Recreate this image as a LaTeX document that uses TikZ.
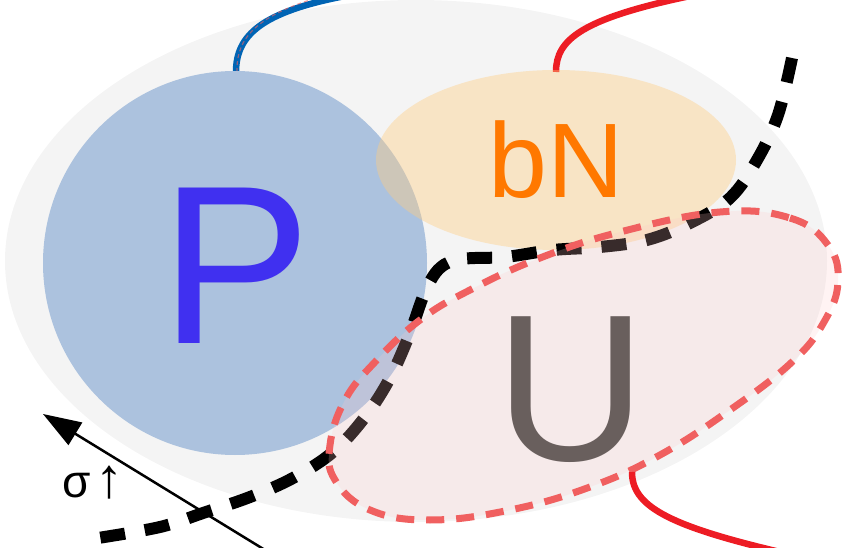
\documentclass[tikz,border=0pt]{standalone}
\usepackage{fontspec}
\setmainfont{Liberation Sans}
\usetikzlibrary{arrows.meta}

\definecolor{bggray}{RGB}{244,244,244}
\definecolor{pblue}{RGB}{172,194,222}
\definecolor{ptext}{RGB}{64,48,240}
\definecolor{bnfill}{RGB}{255,204,128}
\definecolor{bntext}{RGB}{255,120,0}
\definecolor{ufill}{RGB}{255,200,200}
\definecolor{uedge}{RGB}{240,96,96}
\definecolor{utext}{RGB}{105,95,93}
\definecolor{linkblue}{RGB}{0,100,180}
\definecolor{linkred}{RGB}{237,28,36}

\tikzset{
  bigletter/.style={inner sep=0pt, anchor=base},
  boundary/.style={line width=12pt, dash pattern=on 25pt off 20pt, black},
  uoutline/.style={line width=7pt, dash pattern=on 18pt off 12pt, uedge},
  link/.style={line width=6.5pt},
}

\begin{document}
\begin{tikzpicture}[x=1pt, y=-1pt]
  \useasboundingbox (0,0) rectangle (847,548);
  \clip (0,0) rectangle (847,548);

  % outer gray domain
  \fill[bggray] (416,261) ellipse [x radius=411, y radius=261];

  % links leaving the top of P and bN
  \draw[link, linkblue] (236,72) .. controls (236,35) and (262,12) .. (345,-4);
  \draw[line width=1.2pt, uedge, opacity=0.6, dash pattern=on 4pt off 3pt]
    (237,72) .. controls (236,38) and (256,14) .. (330,-6);
  \draw[link, linkred] (556,72) .. controls (556,40) and (580,18) .. (700,-6);

  % P region
  \fill[pblue] (235,263) circle [radius=192];
  \node[bigletter, text=ptext, font=\fontsize{226}{226}\selectfont] (P) at (236,344) {P};

  % bN region
  \fill[bnfill, opacity=0.4] (556,160) ellipse [x radius=180, y radius=90];
  \node[bigletter, text=bntext, font=\fontsize{106}{106}\selectfont] (bN) at (556,198) {bN};

  % separating boundary
  \draw[boundary] plot[smooth, tension=0.6] coordinates {
    (792,58) (778,115) (757,160) (730,198) (690,223) (647,240) (600,247)
    (553,250) (505,257) (462,259) (440,268) (425,292) (410,333) (390,378)
    (365,417) (333,452) (293,478) (250,497) (203,513) (160,527) (98,538)};

  % U region
  \fill[ufill, opacity=0.22] plot[smooth cycle, tension=0.7] coordinates {
    (720,212) (790,218) (828,245) (838,282) (824,322) (792,362) (730,410)
    (660,455) (590,487) (510,510) (430,520) (370,510) (335,480) (330,445)
    (345,400) (375,362) (420,320) (470,290) (540,258) (620,232)};
  \draw[uoutline] plot[smooth cycle, tension=0.7] coordinates {
    (720,212) (790,218) (828,245) (838,282) (824,322) (792,362) (730,410)
    (660,455) (590,487) (510,510) (430,520) (370,510) (335,480) (330,445)
    (345,400) (375,362) (420,320) (470,290) (540,258) (620,232)};
  \node[bigletter, text=utext, font=\fontsize{209}{209}\selectfont] (U) at (571,460) {U};

  % link leaving the bottom of U
  \draw[link, linkred] (632,472) .. controls (632,505) and (665,525) .. (780,552);

  % direction of increasing sigma
  \coordinate (sigfrom) at (265,550);
  \coordinate (sigto) at (43,414);
  \draw[line width=2.5pt, -{Triangle[length=38pt, width=26pt]}] (sigfrom) -- (sigto);
  \node[bigletter, font=\fontsize{46}{46}\selectfont] (sigma) at (93,497)
    {σ\kern5pt{\fontsize{56}{56}\selectfont↑}};
\end{tikzpicture}
\end{document}
